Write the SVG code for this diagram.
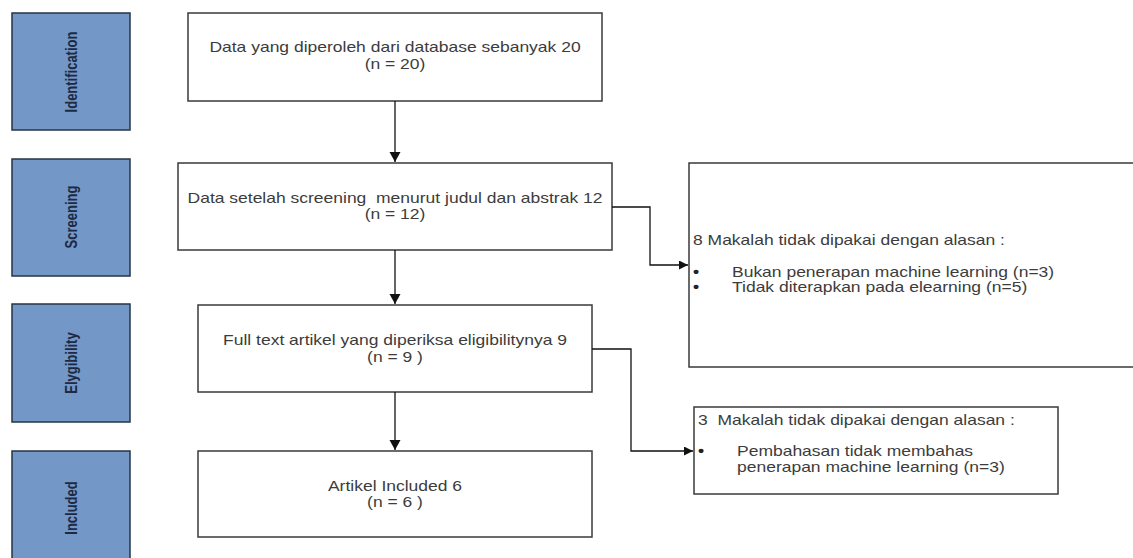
<svg xmlns="http://www.w3.org/2000/svg" width="1133" height="558" viewBox="0 0 1133 558">
<style>
.phase{fill:#7397c7;stroke:#263445;stroke-width:1.5}
.ptxt{font-family:"Liberation Sans",Arial,sans-serif;font-weight:bold;font-size:13px;fill:#1c2a44;text-anchor:middle}
.box{fill:#fff;stroke:#3a3a3a;stroke-width:1.5}
.t{font-family:"Liberation Sans",Arial,sans-serif;font-size:14px;fill:#3c3c3c}
.b{font-weight:bold;fill:#222}
.c{text-anchor:middle}
.conn{fill:none;stroke:#111;stroke-width:1.3}
</style>
<defs>
<marker id="ah" markerUnits="userSpaceOnUse" markerWidth="12" markerHeight="12" refX="10" refY="5.5" orient="auto">
<path d="M0,0 L10,5.5 L0,11 Z" fill="#111"/>
</marker>
<marker id="ahs" markerUnits="userSpaceOnUse" markerWidth="10" markerHeight="10" refX="9" refY="4.5" orient="auto">
<path d="M0,0 L9,4.5 L0,9 Z" fill="#111"/>
</marker>
</defs>

<g id="phase-identification">
<rect class="phase" x="12" y="13" width="118" height="117"/>
<text class="ptxt" transform="translate(77 72) scale(1.3 1) rotate(-90)">Identification</text>
</g>
<g id="phase-screening">
<rect class="phase" x="12" y="159" width="118" height="117"/>
<text class="ptxt" transform="translate(77 217) scale(1.3 1) rotate(-90)">Screening</text>
</g>
<g id="phase-elygibility">
<rect class="phase" x="12" y="304" width="118" height="118"/>
<text class="ptxt" transform="translate(77 363) scale(1.3 1) rotate(-90)">Elygibility</text>
</g>
<g id="phase-included">
<rect class="phase" x="12" y="451" width="118" height="116"/>
<text class="ptxt" transform="translate(77 508) scale(1.3 1) rotate(-90)">Included</text>
</g>

<g id="box-identified">
<rect class="box" x="188" y="13" width="414" height="88"/>
<g transform="translate(395 0) scale(1.25 1)">
<text class="t c" x="0" y="52">Data yang diperoleh dari database sebanyak 20</text>
<text class="t c" x="0" y="69">(n = 20)</text>
</g>
</g>

<g id="box-screened">
<rect class="box" x="178" y="163" width="434" height="87"/>
<g transform="translate(395 0) scale(1.25 1)">
<text class="t c" x="0" y="203">Data setelah screening&#160; menurut judul dan abstrak 12</text>
<text class="t c" x="0" y="219">(n = 12)</text>
</g>
</g>

<g id="box-excluded-screening">
<rect class="box" x="689" y="163" width="460" height="204"/>
<g transform="translate(693 0) scale(1.25 1)">
<text class="t" x="0" y="245">8 Makalah tidak dipakai dengan alasan :</text>
<text class="t b" x="0" y="277">•</text>
<text class="t" x="31.2" y="277">Bukan penerapan machine learning (n=3)</text>
<text class="t b" x="0" y="292">•</text>
<text class="t" x="31.2" y="292">Tidak diterapkan pada elearning (n=5)</text>
</g>
</g>

<g id="box-eligibility">
<rect class="box" x="198" y="305" width="394" height="87"/>
<g transform="translate(395 0) scale(1.25 1)">
<text class="t c" x="0" y="345">Full text artikel yang diperiksa eligibilitynya 9</text>
<text class="t c" x="0" y="362">(n = 9 )</text>
</g>
</g>

<g id="box-excluded-eligibility">
<rect class="box" x="694" y="407" width="364" height="87"/>
<g transform="translate(698 0) scale(1.25 1)">
<text class="t" x="0" y="425">3&#160; Makalah tidak dipakai dengan alasan :</text>
<text class="t b" x="0" y="456">•</text>
<text class="t" x="31.2" y="456">Pembahasan tidak membahas</text>
<text class="t" x="31.2" y="472">penerapan machine learning (n=3)</text>
</g>
</g>

<g id="box-included">
<rect class="box" x="198" y="451" width="394" height="86"/>
<g transform="translate(395 0) scale(1.25 1)">
<text class="t c" x="0" y="491">Artikel Included 6</text>
<text class="t c" x="0" y="507">(n = 6 )</text>
</g>
</g>

<g id="connectors">
<path class="conn" d="M395,101 L395,162" marker-end="url(#ah)"/>
<path class="conn" d="M395,250 L395,304" marker-end="url(#ah)"/>
<path class="conn" d="M395,392 L395,450" marker-end="url(#ah)"/>
<path class="conn" d="M612,207 L650,207 L650,265 L688,265" marker-end="url(#ahs)"/>
<path class="conn" d="M592,349 L631,349 L631,451 L693,451" marker-end="url(#ahs)"/>
</g>
</svg>
